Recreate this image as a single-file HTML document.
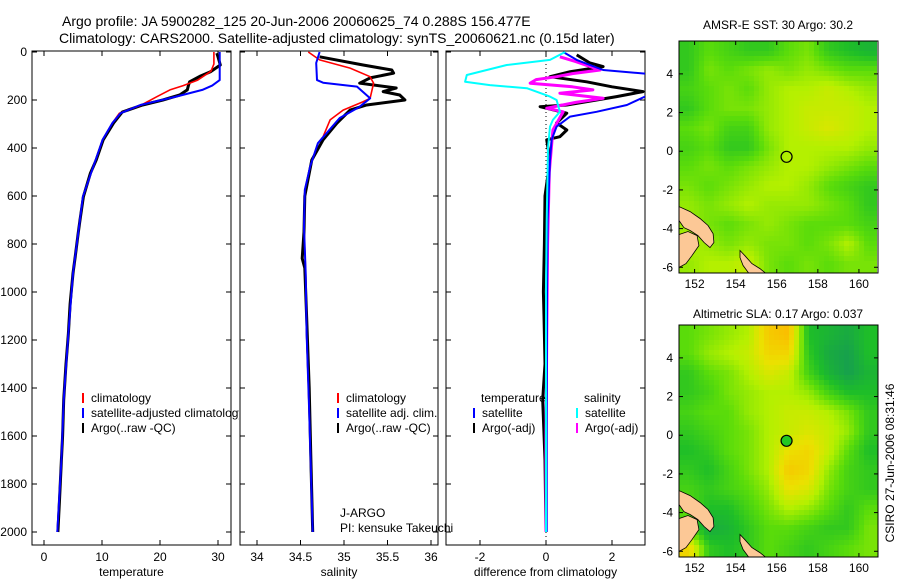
<!DOCTYPE html>
<html><head><meta charset="utf-8"><style>
html,body{margin:0;padding:0;background:#fff;}
svg{display:block;font-family:"Liberation Sans",sans-serif;}
</style></head><body>
<svg id="fig" width="900" height="580" viewBox="0 0 900 580" xmlns="http://www.w3.org/2000/svg">
<text x="62" y="26" font-size="14">Argo profile: JA 5900282_125 20-Jun-2006 20060625_74 0.288S 156.477E</text>
<text x="59" y="43" font-size="14">Climatology: CARS2000. Satellite-adjusted climatology: synTS_20060621.nc (0.15d later)</text>
<defs>
<clipPath id="c1"><rect x="32" y="51" width="199" height="494"/></clipPath>
<clipPath id="c2"><rect x="240" y="51" width="198" height="494"/></clipPath>
<clipPath id="c3"><rect x="446" y="51" width="199" height="494"/></clipPath>
<clipPath id="cm1"><rect x="679" y="41" width="198" height="232"/></clipPath>
<clipPath id="cm2"><rect x="679" y="325" width="199" height="232"/></clipPath>
<clipPath id="cl1"><rect x="32" y="51" width="207" height="494"/></clipPath>
</defs>
<g id="p1"></g>
<g id="p2"></g>
<g id="p3"></g>
<g id="m1"></g>
<g id="m2"></g>
<text x="778" y="29" font-size="12" text-anchor="middle">AMSR-E SST: 30 Argo: 30.2</text>
<text x="778" y="318" font-size="12" text-anchor="middle">Altimetric SLA: 0.17 Argo: 0.037</text>
<text x="0" y="0" font-size="12" text-anchor="middle" transform="translate(894,463) rotate(-90)">CSIRO 27-Jun-2006 08:31:46</text>
</svg>
<script>
// ---- profile data ----
const tempDepth = [0,50,80,117,140,158,186,221,255,296,366,505,603,755,922,1172,1450,1700,2000];
const tempClim = [29.3,29.3,28.8,26.5,24,21.7,19.5,16.8,13.0,11.8,10.1,8.1,6.7,5.9,5.0,4.2,3.4,3.0,2.3];
const tempSat = [30.3,30.3,30.3,30.3,29,27.3,22.8,16.6,13.2,11.8,10.1,8.1,6.7,5.9,5.0,4.2,3.4,3.0,2.3];
const tempArgoDepth = [5,20,54,82,100,124,140,158,179,200,221,250,296,366,450,505,603,700,755,850,922,1050,1172,1300,1450,1600,1700,1850,2000];
const tempArgo = [29.8,30.0,30.4,28.7,27,25.1,24.9,24.7,23.4,20.5,17.0,13.5,12.0,10.2,9.0,8.0,6.8,6.2,5.9,5.4,5.0,4.5,4.2,3.8,3.4,3.2,3.0,2.7,2.4];
const salClimDepth = [0,33,67,103,130,193,207,242,283,353,380,478,575,729,922,1172,1500,2000];
const salClim = [34.59,34.72,35.07,35.30,35.34,35.30,35.22,34.99,34.84,34.76,34.70,34.61,34.55,34.54,34.56,34.57,34.6,34.64];
const salSatDepth = [0,46,117,128,144,193,228,275,338,380,478,575,729,922,1172,1500,2000];
const salSat = [34.72,34.68,34.69,34.76,35.15,35.30,35.18,34.95,34.80,34.70,34.61,34.55,34.54,34.56,34.57,34.6,34.64];
const salArgoDepth = [20,54,75,88,108,130,150,165,179,200,221,242,296,366,450,600,750,860,900,1100,1400,1700,2000];
const salArgo = [34.72,35.22,35.55,35.57,35.30,35.18,35.6,35.45,35.64,35.70,35.26,35.07,34.92,34.76,34.63,34.55,34.54,34.52,34.55,34.57,34.6,34.62,34.64];
const dTSatDepth = [0,33,75,96,135,179,221,249,269,311,366,450,700,1000,1500,2000];
const dTSat = [0.52,0.93,1.73,3.5,4.5,3.1,2.45,1.53,0.73,0.32,0.17,0.12,0.05,0.03,0.02,0.02];
const dSSatDepth = [0,33,54,96,124,138,151,186,200,249,283,311,400,700,1000,1500,2000];
const dSSat = [0.58,0.12,-1.19,-2.4,-2.45,-1.7,-0.58,0.12,0.32,0.42,0.21,0.12,0.06,0.02,0.0,0.0,0.0];
const dSArgoDepth = [20,40,75,90,103,115,130,145,158,172,193,210,234,249,325,500,800,1200,1600,2000];
const dSArgo = [0.42,0.9,1.64,0.8,0.32,-0.3,-0.48,0.8,1.42,0.42,1.73,0.9,0.02,0.52,0.21,0.1,0.05,0.02,0.0,0.0];
const dTArgoDepth = [12,46,61,82,103,124,145,165,186,221,228,255,296,325,353,366,450,600,800,1000,1100,1300,1450,1700,2000];
const dTArgo = [0.93,1.33,1.73,0.73,0.12,1.23,2.0,2.94,2.14,0.63,-0.18,0.63,0.32,0.63,0.42,0.02,0.12,-0.03,-0.05,-0.08,-0.06,-0.03,-0.1,-0.03,0.0];
const depthTicks = [0,200,400,600,800,1000,1200,1400,1600,1800,2000];
const tempTicks = [0,10,20,30];
const salTicks = [34,34.5,35,35.5,36];
const diffTicks = [-2,0,2];
// ---- map data (rows north->south, cols west->east) ----
const sstGrid = [
[.35,.45,.4,.35,.35,.45,.5,.35,.3,.25],
[.35,.5,.45,.5,.55,.5,.55,.5,.45,.45],
[.4,.45,.5,.45,.55,.6,.6,.65,.6,.55],
[.35,.45,.5,.5,.55,.6,.65,.65,.65,.6],
[.45,.5,.4,.4,.55,.6,.65,.7,.65,.6],
[.4,.45,.35,.35,.5,.6,.6,.6,.6,.55],
[.45,.5,.45,.5,.55,.6,.6,.55,.5,.45],
[.5,.45,.5,.55,.6,.6,.55,.45,.4,.35],
[.55,.5,.55,.6,.55,.55,.55,.5,.45,.35],
[.55,.5,.45,.5,.55,.5,.45,.45,.45,.4],
[.6,.55,.5,.55,.5,.5,.45,.5,.6,.45],
[.55,.6,.6,.65,.5,.45,.5,.45,.5,.5]];
const slaGrid = [
[.45,.5,.55,.6,.85,.9,.3,.25,.2,.3],
[.45,.55,.6,.65,.8,.8,.35,.2,.15,.3],
[.35,.45,.5,.6,.7,.65,.4,.25,.15,.25],
[.35,.4,.5,.55,.6,.6,.55,.4,.3,.3],
[.4,.45,.45,.55,.6,.65,.65,.6,.5,.35],
[.35,.4,.45,.5,.6,.65,.7,.65,.55,.35],
[.3,.35,.45,.5,.6,.75,.8,.65,.45,.3],
[.35,.3,.4,.5,.6,.85,.8,.55,.4,.35],
[.4,.35,.4,.45,.55,.75,.7,.5,.4,.35],
[.45,.3,.3,.4,.5,.6,.55,.45,.35,.45],
[.4,.2,.25,.35,.45,.45,.4,.35,.35,.5],
[.8,.35,.3,.35,.45,.4,.35,.4,.45,.5]];
const lonTicks = [152,154,156,158,160];
const latTicks = [4,2,0,-2,-4,-6];
const floatLon = 156.477, floatLat = -0.288;
const land1 = [[151.24,-2.86],[151.78,-3.12],[152.26,-3.48],[152.65,-3.84],[152.9,-4.26],[152.94,-4.72],[152.75,-4.98],[152.46,-4.72],[152.16,-4.36],[151.78,-4.1],[151.48,-3.95],[151.24,-3.58]];
const land2 = [[151.1,-4.36],[151.68,-4.15],[152.12,-4.36],[152.21,-4.88],[151.87,-5.4],[151.58,-5.81],[151.24,-6.01],[151.1,-6.01]];
const land3 = [[154.21,-5.13],[154.45,-5.4],[154.79,-5.81],[155.18,-6.07],[155.57,-6.4],[154.7,-6.4],[154.36,-5.91],[154.21,-5.5]];

const NS="http://www.w3.org/2000/svg";
function mk(tag,attrs,parent){const e=document.createElementNS(NS,tag);for(const k in attrs)e.setAttribute(k,attrs[k]);parent.appendChild(e);return e;}
const yD = d => 52 + d*0.24;
const xT = v => 44 + 5.8*v;
const xS = v => 257 + 87*(v-34);
const xDf = v => 546 + 33*v;

function panel(g, x0, w, ticks, sc, fmt, label, showY){
  const r=mk('rect',{x:x0,y:51,width:w,height:494,fill:'none',stroke:'#000','stroke-width':1},g);
  
  
  ticks.forEach(t=>{
    const x=sc(t);
    mk('line',{x1:x,x2:x,y1:545,y2:540,stroke:'#000'},g);
    mk('line',{x1:x,x2:x,y1:51,y2:56,stroke:'#000'},g);
    const tx=mk('text',{x:x,y:561,'font-size':12,'text-anchor':'middle'},g);
    tx.textContent=fmt(t);
    
    
  });
  depthTicks.forEach(d=>{
    const y=yD(d);
    mk('line',{x1:x0,x2:x0+5,y1:y,y2:y,stroke:'#000'},g);
    mk('line',{x1:x0+w,x2:x0+w-5,y1:y,y2:y,stroke:'#000'},g);
    if(showY){const tx=mk('text',{x:27,y:y+4,'font-size':12,'text-anchor':'end'},g);
      tx.textContent=d;
      
      }
  });
  const lb=mk('text',{x:x0+w/2,y:576,'font-size':12,'text-anchor':'middle'},g);
  lb.textContent=label;
  
  
}
function line(g,depths,vals,sc,color,wd,clip,name){
  const pts=depths.map((d,i)=>sc(vals[i]).toFixed(1)+','+yD(d).toFixed(1)).join(' ');
  const p=mk('polyline',{points:pts,fill:'none',stroke:color,'stroke-width':wd,'stroke-linejoin':'round','clip-path':'url(#'+clip+')'},g);
  
  
}
function legend(g,x,y,color,txt,clip){
  mk('line',{x1:x,x2:x,y1:y-9,y2:y+1,stroke:color,'stroke-width':2},g);
  const t=mk('text',{x:x+8,y:y,'font-size':12},g);
  if(clip)t.setAttribute('clip-path','url(#'+clip+')');
  t.textContent=txt;
  
  
}
const p1=document.getElementById('p1'),p2=document.getElementById('p2'),p3=document.getElementById('p3');
panel(p1,32,199,tempTicks,xT,String,'temperature',true);
line(p1,tempArgoDepth,tempArgo,xT,'#000',3,'c1','temp-argo-line');
line(p1,tempDepth,tempClim,xT,'#f00',1.6,'c1','temp-climatology-line');
line(p1,tempDepth,tempSat,xT,'#00f',2,'c1','temp-satellite-line');
legend(p1,83,402,'#f00','climatology');
legend(p1,83,417,'#00f','satellite-adjusted climatology','cl1');
legend(p1,83,432,'#000','Argo(..raw -QC)');

panel(p2,240,198,salTicks,xS,String,'salinity',false);
line(p2,salArgoDepth,salArgo,xS,'#000',3,'c2','sal-argo-line');
line(p2,salClimDepth,salClim,xS,'#f00',1.6,'c2','sal-climatology-line');
line(p2,salSatDepth,salSat,xS,'#00f',2,'c2','sal-satellite-line');
legend(p2,338,402,'#f00','climatology');
legend(p2,338,417,'#00f','satellite adj. clim.');
legend(p2,338,432,'#000','Argo(..raw -QC)');
const ja=mk('text',{x:340,y:517,'font-size':12},p2);ja.textContent='J-ARGO';


const pi=mk('text',{x:340,y:532,'font-size':12},p2);pi.textContent='PI: kensuke Takeuchi';



panel(p3,446,199,diffTicks,xDf,String,'difference from climatology',false);
mk('line',{x1:xDf(0),x2:xDf(0),y1:52,y2:545,stroke:'#000','stroke-dasharray':'1,3'},p3);
line(p3,dTArgoDepth,dTArgo,xDf,'#000',3,'c3','diff-temp-argo-line');
line(p3,dSArgoDepth,dSArgo,xDf,'#f0f',3,'c3','diff-sal-argo-line');
line(p3,dTSatDepth,dTSat,xDf,'#00f',2,'c3','diff-temp-satellite-line');
line(p3,dSSatDepth,dSSat,xDf,'#0ff',2,'c3','diff-sal-satellite-line');
const lt=mk('text',{x:481,y:402,'font-size':12},p3);lt.textContent='temperature';


const ls=mk('text',{x:584,y:402,'font-size':12},p3);ls.textContent='salinity';


legend(p3,474,417,'#00f','satellite');
legend(p3,474,432,'#000','Argo(-adj)');
legend(p3,577,417,'#0ff','satellite');
legend(p3,577,432,'#f0f','Argo(-adj)');

// ---- maps ----
function cmap(v){
  const stops=[[0.1,[20,150,90]],[0.3,[30,190,40]],[0.45,[90,220,10]],[0.6,[180,240,0]],[0.75,[235,225,0]],[0.9,[250,190,0]]];
  if(v<=stops[0][0])return stops[0][1];
  for(let i=1;i<stops.length;i++){if(v<=stops[i][0]){const a=stops[i-1],b=stops[i],t=(v-a[0])/(b[0]-a[0]);return a[1].map((c,k)=>Math.round(c+(b[1][k]-c)*t));}}
  return stops[stops.length-1][1];
}
function drawMap(g,grid,top,clip,filled){
  const left=679,w=199,h=232;
  const lonX=lo=>679+(lo-151.24)*20.54;
  const latY=la=>top+(5.7-la)*19.34;
  const rows=grid.length,cols=grid[0].length,cs=5;
  const cg=mk('g',{'clip-path':'url(#'+clip+')'},g);
  for(let y=0;y<h;y+=cs){for(let x=0;x<w;x+=cs){
    const gx=Math.min(Math.max((x+cs/2)/w*cols-0.5,0),cols-1.001),gy=Math.min(Math.max((y+cs/2)/h*rows-0.5,0),rows-1.001);
    const i=Math.floor(gy),j=Math.floor(gx),fy=gy-i,fx=gx-j;
    const v=grid[i][j]*(1-fx)*(1-fy)+grid[i][j+1]*fx*(1-fy)+grid[i+1][j]*(1-fx)*fy+grid[i+1][j+1]*fx*fy;
    const c=cmap(v);
    mk('rect',{x:left+x,y:top+y,width:cs+0.5,height:cs+0.5,fill:'rgb('+c.join(',')+')'},cg);
  }}
  [land1,land2,land3].forEach(L=>{
    const p=mk('polygon',{points:L.map(q=>lonX(q[0]).toFixed(1)+','+latY(q[1]).toFixed(1)).join(' '),fill:'#fcc896',stroke:'#000','stroke-width':0.8},cg);
    
    
  });
  const fr=mk('rect',{x:left,y:top,width:w,height:h,fill:'none',stroke:'#000'},g);
  
  
  lonTicks.forEach(lo=>{const x=lonX(lo);
    mk('line',{x1:x,x2:x,y1:top+h,y2:top+h-4,stroke:'#000'},g);
    mk('line',{x1:x,x2:x,y1:top,y2:top+4,stroke:'#000'},g);
    const t=mk('text',{x:x,y:top+h+15,'font-size':12,'text-anchor':'middle'},g);t.textContent=lo;
    
    });
  latTicks.forEach(la=>{const y=latY(la);
    mk('line',{x1:left,x2:left+4,y1:y,y2:y,stroke:'#000'},g);
    mk('line',{x1:left+w,x2:left+w-4,y1:y,y2:y,stroke:'#000'},g);
    const t=mk('text',{x:673,y:y+4,'font-size':12,'text-anchor':'end'},g);t.textContent=la;
    
    });
  const c=mk('circle',{cx:lonX(floatLon),cy:latY(floatLat),r:5.5,fill:filled?'#22c822':'none',stroke:'#000','stroke-width':1.2},g);
  
  
}
drawMap(document.getElementById('m1'),sstGrid,41,'cm1',false);
drawMap(document.getElementById('m2'),slaGrid,325,'cm2',true);
</script>
</body></html>
